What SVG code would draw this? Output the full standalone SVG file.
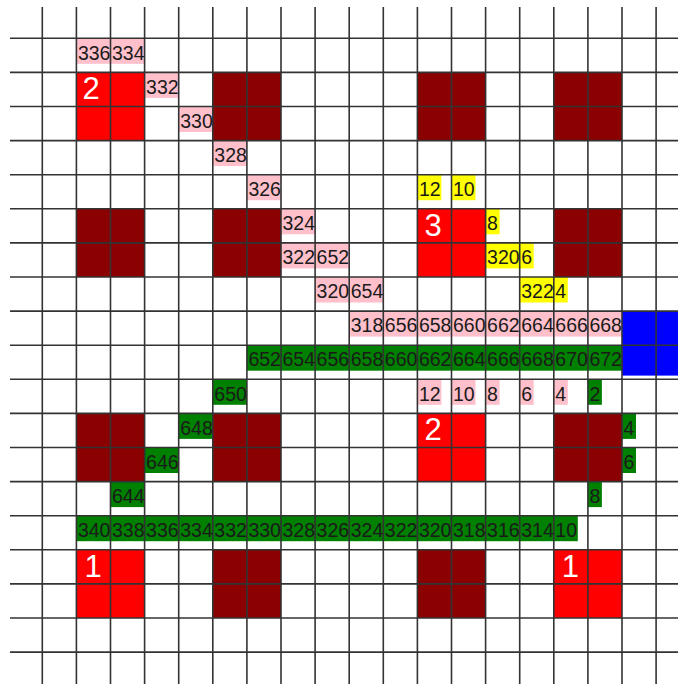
<svg xmlns="http://www.w3.org/2000/svg" width="678" height="684" viewBox="0 0 678 684">
<style>
.red{fill:#ff0000}
.dark{fill:#8b0000}
.blue{fill:#0000ff}
.pk{fill:#ffc0cb}
.gr{fill:#008000}
.yl{fill:#ffff00}
.t{font-family:"Liberation Sans",Arial,sans-serif;font-size:19.5px;fill:#1a1a1a}
.big{font-family:"Liberation Sans",Arial,sans-serif;font-size:31px;fill:#ffffff}
.grid line{stroke:#333333;stroke-width:1.6}
</style>
<rect x="0" y="0" width="678" height="684" fill="#ffffff"/>
<g id="blocks">
<rect class="red" x="76.4" y="72.4" width="68.2" height="68.2"/>
<rect class="red" x="417.4" y="208.8" width="68.2" height="68.2"/>
<rect class="red" x="417.4" y="413.4" width="68.2" height="68.2"/>
<rect class="red" x="76.4" y="549.8" width="68.2" height="68.2"/>
<rect class="red" x="553.8" y="549.8" width="68.2" height="68.2"/>
<rect class="dark" x="212.8" y="72.4" width="68.2" height="68.2"/>
<rect class="dark" x="417.4" y="72.4" width="68.2" height="68.2"/>
<rect class="dark" x="553.8" y="72.4" width="68.2" height="68.2"/>
<rect class="dark" x="76.4" y="208.8" width="68.2" height="68.2"/>
<rect class="dark" x="212.8" y="208.8" width="68.2" height="68.2"/>
<rect class="dark" x="553.8" y="208.8" width="68.2" height="68.2"/>
<rect class="dark" x="76.4" y="413.4" width="68.2" height="68.2"/>
<rect class="dark" x="212.8" y="413.4" width="68.2" height="68.2"/>
<rect class="dark" x="553.8" y="413.4" width="68.2" height="68.2"/>
<rect class="dark" x="212.8" y="549.8" width="68.2" height="68.2"/>
<rect class="dark" x="417.4" y="549.8" width="68.2" height="68.2"/>
<rect class="blue" x="622" y="311.1" width="56" height="64.5"/>
</g>
<g id="label-bg">
<rect class="pk" x="76.4" y="38.3" width="68.3" height="25.5"/>
<rect class="pk" x="144.6" y="72.4" width="34.1" height="25.5"/>
<rect class="pk" x="178.7" y="106.5" width="34.1" height="25.5"/>
<rect class="pk" x="212.8" y="140.6" width="34.1" height="25.5"/>
<rect class="pk" x="246.9" y="174.7" width="34.1" height="25.5"/>
<rect class="pk" x="281" y="208.8" width="34.1" height="25.5"/>
<rect class="pk" x="281" y="242.9" width="68.2" height="25.5"/>
<rect class="pk" x="315.1" y="277" width="68.2" height="25.5"/>
<rect class="pk" x="349.2" y="311.1" width="272.8" height="25.5"/>
<rect class="pk" x="417.4" y="379.3" width="24" height="25.5"/>
<rect class="pk" x="451.5" y="379.3" width="24" height="25.5"/>
<rect class="pk" x="485.6" y="379.3" width="14" height="25.5"/>
<rect class="pk" x="519.7" y="379.3" width="14" height="25.5"/>
<rect class="pk" x="553.8" y="379.3" width="14" height="25.5"/>
<rect class="gr" x="246.9" y="345.2" width="375.1" height="25.5"/>
<rect class="gr" x="212.8" y="379.3" width="34.1" height="25.5"/>
<rect class="gr" x="587.9" y="379.3" width="14" height="25.5"/>
<rect class="gr" x="178.7" y="413.4" width="34.1" height="25.5"/>
<rect class="gr" x="622" y="413.4" width="14" height="25.5"/>
<rect class="gr" x="144.6" y="447.5" width="34.1" height="25.5"/>
<rect class="gr" x="622" y="447.5" width="14" height="25.5"/>
<rect class="gr" x="110.5" y="481.6" width="34.1" height="25.5"/>
<rect class="gr" x="587.9" y="481.6" width="14" height="25.5"/>
<rect class="gr" x="76.4" y="515.7" width="477.4" height="25.5"/>
<rect class="gr" x="553.8" y="515.7" width="24" height="25.5"/>
<rect class="yl" x="417.4" y="174.7" width="24" height="25.5"/>
<rect class="yl" x="451.5" y="174.7" width="24" height="25.5"/>
<rect class="yl" x="485.6" y="208.8" width="14" height="25.5"/>
<rect class="yl" x="485.6" y="242.9" width="34.1" height="25.5"/>
<rect class="yl" x="519.7" y="242.9" width="14" height="25.5"/>
<rect class="yl" x="519.7" y="277" width="34.1" height="25.5"/>
<rect class="yl" x="553.8" y="277" width="14" height="25.5"/>
</g>
<g class="grid" id="grid">
<line x1="10" y1="38.3" x2="678" y2="38.3"/>
<line x1="10" y1="72.4" x2="678" y2="72.4"/>
<line x1="10" y1="106.5" x2="678" y2="106.5"/>
<line x1="10" y1="140.6" x2="678" y2="140.6"/>
<line x1="10" y1="174.7" x2="678" y2="174.7"/>
<line x1="10" y1="208.8" x2="678" y2="208.8"/>
<line x1="10" y1="242.9" x2="678" y2="242.9"/>
<line x1="10" y1="277" x2="678" y2="277"/>
<line x1="10" y1="311.1" x2="678" y2="311.1"/>
<line x1="10" y1="345.2" x2="678" y2="345.2"/>
<line x1="10" y1="379.3" x2="678" y2="379.3"/>
<line x1="10" y1="413.4" x2="678" y2="413.4"/>
<line x1="10" y1="447.5" x2="678" y2="447.5"/>
<line x1="10" y1="481.6" x2="678" y2="481.6"/>
<line x1="10" y1="515.7" x2="678" y2="515.7"/>
<line x1="10" y1="549.8" x2="678" y2="549.8"/>
<line x1="10" y1="583.9" x2="678" y2="583.9"/>
<line x1="10" y1="618" x2="678" y2="618"/>
<line x1="10" y1="652.1" x2="678" y2="652.1"/>
<line x1="42.3" y1="7" x2="42.3" y2="684"/>
<line x1="76.4" y1="7" x2="76.4" y2="684"/>
<line x1="110.5" y1="7" x2="110.5" y2="684"/>
<line x1="144.6" y1="7" x2="144.6" y2="684"/>
<line x1="178.7" y1="7" x2="178.7" y2="684"/>
<line x1="212.8" y1="7" x2="212.8" y2="684"/>
<line x1="246.9" y1="7" x2="246.9" y2="684"/>
<line x1="281" y1="7" x2="281" y2="684"/>
<line x1="315.1" y1="7" x2="315.1" y2="684"/>
<line x1="349.2" y1="7" x2="349.2" y2="684"/>
<line x1="383.3" y1="7" x2="383.3" y2="684"/>
<line x1="417.4" y1="7" x2="417.4" y2="684"/>
<line x1="451.5" y1="7" x2="451.5" y2="684"/>
<line x1="485.6" y1="7" x2="485.6" y2="684"/>
<line x1="519.7" y1="7" x2="519.7" y2="684"/>
<line x1="553.8" y1="7" x2="553.8" y2="684"/>
<line x1="587.9" y1="7" x2="587.9" y2="684"/>
<line x1="622" y1="7" x2="622" y2="684"/>
<line x1="656.1" y1="7" x2="656.1" y2="684"/>
</g>
<g id="labels" class="t" transform="translate(-1,0.8)">
<text x="78.9" y="58.8">336</text><text x="113" y="58.8">334</text>
<text x="147.1" y="92.9">332</text>
<text x="181.2" y="127">330</text>
<text x="215.3" y="161.1">328</text>
<text x="249.4" y="195.2">326</text>
<text x="283.5" y="229.3">324</text>
<text x="283.5" y="263.4">322</text><text x="317.6" y="263.4">652</text>
<text x="317.6" y="297.5">320</text><text x="351.7" y="297.5">654</text>
<text x="351.7" y="331.6">318</text><text x="385.8" y="331.6">656</text><text x="419.9" y="331.6">658</text><text x="454" y="331.6">660</text><text x="488.1" y="331.6">662</text><text x="522.2" y="331.6">664</text><text x="556.3" y="331.6">666</text><text x="590.4" y="331.6">668</text>
<text x="249.4" y="365.7">652</text><text x="283.5" y="365.7">654</text><text x="317.6" y="365.7">656</text><text x="351.7" y="365.7">658</text><text x="385.8" y="365.7">660</text><text x="419.9" y="365.7">662</text><text x="454" y="365.7">664</text><text x="488.1" y="365.7">666</text><text x="522.2" y="365.7">668</text><text x="556.3" y="365.7">670</text><text x="590.4" y="365.7">672</text>
<text x="215.3" y="399.8">650</text>
<text x="419.9" y="399.8">12</text><text x="454" y="399.8">10</text><text x="488.1" y="399.8">8</text><text x="522.2" y="399.8">6</text><text x="556.3" y="399.8">4</text><text x="590.4" y="399.8">2</text>
<text x="181.2" y="433.9">648</text><text x="624.5" y="433.9">4</text>
<text x="147.1" y="468">646</text><text x="624.5" y="468">6</text>
<text x="113" y="502.1">644</text><text x="590.4" y="502.1">8</text>
<text x="78.9" y="536.2">340</text><text x="113" y="536.2">338</text><text x="147.1" y="536.2">336</text><text x="181.2" y="536.2">334</text><text x="215.3" y="536.2">332</text><text x="249.4" y="536.2">330</text><text x="283.5" y="536.2">328</text><text x="317.6" y="536.2">326</text><text x="351.7" y="536.2">324</text><text x="385.8" y="536.2">322</text><text x="419.9" y="536.2">320</text><text x="454" y="536.2">318</text><text x="488.1" y="536.2">316</text><text x="522.2" y="536.2">314</text><text x="556.3" y="536.2">10</text>
<text x="419.9" y="195.2">12</text><text x="454" y="195.2">10</text>
<text x="488.1" y="229.3">8</text>
<text x="488.1" y="263.4">320</text><text x="522.2" y="263.4">6</text>
<text x="522.2" y="297.5">322</text><text x="556.3" y="297.5">4</text>
</g>
<g id="block-labels" class="big">
<text x="82.4" y="99.4">2</text>
<text x="424.4" y="235.8">3</text>
<text x="424.4" y="440.4">2</text>
<text x="84.4" y="576.8">1</text>
<text x="561.8" y="576.8">1</text>
</g>
</svg>
